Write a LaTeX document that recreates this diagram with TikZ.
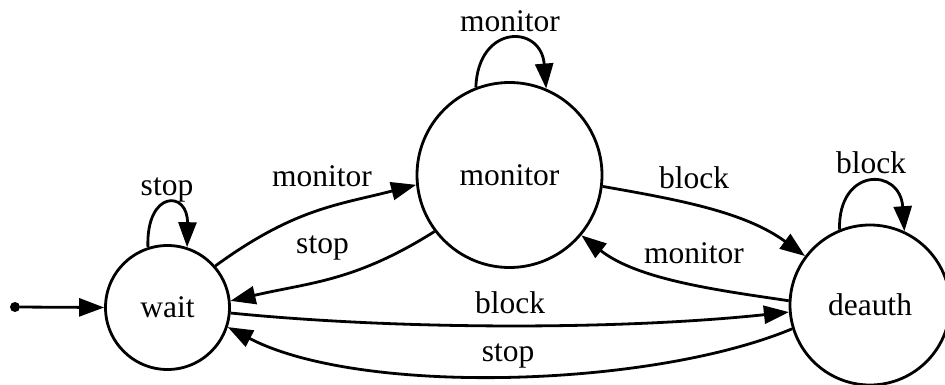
\documentclass[tikz,border=0pt]{standalone}
\usepackage{fontspec}
\setmainfont{Liberation Serif}
\usetikzlibrary{arrows.meta}
\begin{document}
\begin{tikzpicture}[x=1pt,y=-1pt,
  font=\fontsize{31.5}{36}\selectfont,
  state/.style={circle,draw,line width=2.8pt,inner sep=0pt},
  edge/.style={line width=2.8pt,-{Triangle[length=25pt,width=18pt]}},
  lbl/.style={anchor=base,inner sep=0pt}]
\useasboundingbox (0,0) rectangle (945,385);

% states
\node[state,minimum size=124pt] (wait) at (167.5,307.5) {wait};
\node[state,minimum size=185pt] (monitor) at (509.5,175) {monitor};
\node[state,minimum size=160pt] (deauth) at (870,305) {deauth};
\node[circle,fill,inner sep=0pt,minimum size=10pt] (start) at (15,307) {};

% initial arrow
\draw[edge] (start) -- (wait.west);

% self loops
\draw[edge] (wait.108) .. controls (146,190) and (188,190) .. (wait.72);
\draw[edge] (monitor.111.6) .. controls (478,24) and (541,24) .. (monitor.67.6);
\draw[edge] (deauth.112.7) .. controls (838,167) and (900,167) .. (deauth.65);

% transitions
\draw[edge] (wait.41.8) .. controls (295,208) and (338,205) .. (monitor.186.2);
\draw[edge] (monitor.217.4) .. controls (355,281.6) and (310,282.4) .. (wait.6.8);
\draw[edge] (monitor.-7.9) .. controls (680,200) and (745,212) .. (deauth.143.9);
\draw[edge] (deauth.177) .. controls (720,290.5) and (638,280) .. (monitor.-40.3);
\draw[edge] (wait.-5) .. controls (400,330) and (620,330) .. (deauth.185.8);
\draw[edge] (deauth.197.7) .. controls (650,388) and (360,396) .. (wait.-18.7);

% labels
\node[lbl] (lwait) at (167,195) {stop};
\node[lbl] (lmon) at (510,32) {monitor};
\node[lbl] (ldea) at (871,174) {block};
\node[lbl] (lwm) at (322,186) {monitor};
\node[lbl] (lmw) at (322.5,253) {stop};
\node[lbl] (lmd) at (694,188) {block};
\node[lbl] (ldm) at (694,263) {monitor};
\node[lbl] (lwd) at (510,313) {block};
\node[lbl] (ldw) at (508,361) {stop};
\end{tikzpicture}
\end{document}
